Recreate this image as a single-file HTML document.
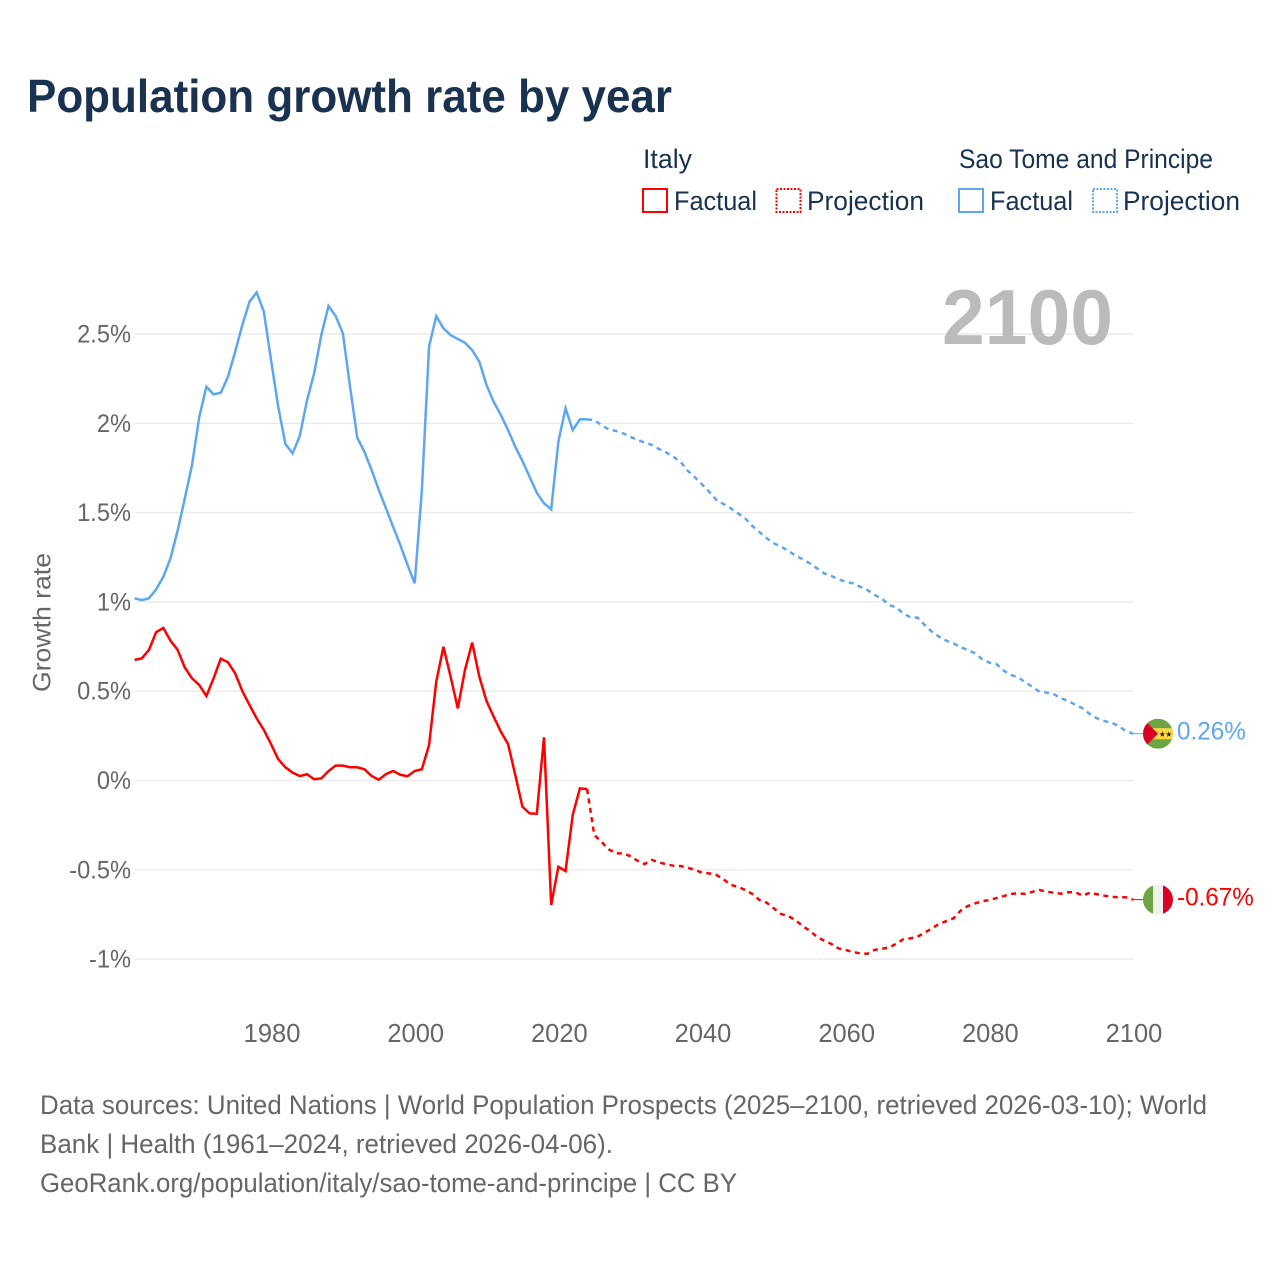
<!DOCTYPE html>
<html lang="en">
<head>
<meta charset="utf-8">
<title>Population growth rate by year</title>
<style>
  html, body { margin: 0; padding: 0; background: #fff; }
  svg { display: block; }
  text { font-family: "Liberation Sans", "DejaVu Sans", sans-serif; }
</style>
</head>
<body>
<svg id="chart" xmlns="http://www.w3.org/2000/svg" width="1280" height="1280" viewBox="0 0 1280 1280">
  <rect x="0" y="0" width="1280" height="1280" fill="#ffffff"/>
  <text x="27" y="112" font-size="46" font-weight="700" fill="#19324f" textLength="645" lengthAdjust="spacingAndGlyphs">Population growth rate by year</text>

  <g font-size="26.5" fill="#19324f">
    <text x="643" y="168" textLength="49" lengthAdjust="spacingAndGlyphs">Italy</text>
    <rect x="643" y="189" width="24" height="23" fill="none" stroke="#ff0000" stroke-width="2"/>
    <text x="674" y="210" textLength="83" lengthAdjust="spacingAndGlyphs">Factual</text>
    <rect x="776.5" y="189" width="24" height="23" fill="none" stroke="#ff0000" stroke-width="2" stroke-dasharray="2 1.5"/>
    <text x="807" y="210" textLength="117" lengthAdjust="spacingAndGlyphs">Projection</text>
    <text x="959" y="168" textLength="254" lengthAdjust="spacingAndGlyphs">Sao Tome and Principe</text>
    <rect x="959" y="189" width="24" height="23" fill="none" stroke="#5ea6ee" stroke-width="2"/>
    <text x="990" y="210" textLength="83" lengthAdjust="spacingAndGlyphs">Factual</text>
    <rect x="1093" y="189" width="24" height="23" fill="none" stroke="#5ea6ee" stroke-width="2" stroke-dasharray="2 1.5"/>
    <text x="1123" y="210" textLength="117" lengthAdjust="spacingAndGlyphs">Projection</text>
  </g>

  <g id="grid"></g>
  <g id="y-ticks"></g>
  <g id="x-ticks"></g>
  <text transform="translate(50.5,692) rotate(-90)" font-size="25" fill="#666666" textLength="139" lengthAdjust="spacingAndGlyphs">Growth rate</text>
  <text x="942" y="344" font-size="78" font-weight="700" fill="#bbbbbb" textLength="171" lengthAdjust="spacingAndGlyphs">2100</text>

  <g id="series"></g>

  <g font-size="26.5" fill="#666666">
    <text x="40" y="1114" textLength="1167" lengthAdjust="spacingAndGlyphs">Data sources: United Nations | World Population Prospects (2025–2100, retrieved 2026-03-10); World</text>
    <text x="40" y="1153" textLength="573" lengthAdjust="spacingAndGlyphs">Bank | Health (1961–2024, retrieved 2026-04-06).</text>
    <text x="40" y="1192" textLength="697" lengthAdjust="spacingAndGlyphs">GeoRank.org/population/italy/sao-tome-and-principe | CC BY</text>
  </g>
</svg>

<script>
const factualStartYear = 1961;
const projectionStartYear = 2025;

const italyFactual = [0.675,0.684,0.731,0.830,0.854,0.783,0.731,0.632,0.572,0.535,
  0.473,0.572,0.682,0.662,0.600,0.501,0.423,0.348,0.283,0.204,
  0.119,0.074,0.044,0.025,0.035,0.007,0.012,0.053,0.083,0.083,
  0.074,0.074,0.063,0.025,0.004,0.036,0.053,0.032,0.024,0.053,
  0.063,0.199,0.553,0.749,0.581,0.404,0.619,0.772,0.581,0.445,
  0.357,0.273,0.204,0.031,-0.147,-0.184,-0.186,0.242,-0.697,-0.483,
  -0.507,-0.193,-0.044,-0.048];

const italyProjection = [-0.305,-0.343,-0.385,-0.408,-0.408,-0.423,-0.449,-0.468,-0.445,-0.458,
  -0.469,-0.477,-0.479,-0.488,-0.501,-0.516,-0.520,-0.529,-0.553,-0.585,
  -0.595,-0.613,-0.635,-0.669,-0.684,-0.716,-0.747,-0.759,-0.781,-0.815,
  -0.841,-0.875,-0.897,-0.915,-0.940,-0.949,-0.960,-0.968,-0.970,-0.949,
  -0.942,-0.936,-0.915,-0.889,-0.884,-0.875,-0.852,-0.828,-0.803,-0.787,
  -0.772,-0.729,-0.703,-0.688,-0.676,-0.669,-0.658,-0.647,-0.635,-0.632,
  -0.635,-0.623,-0.613,-0.623,-0.628,-0.634,-0.626,-0.626,-0.645,-0.628,
  -0.637,-0.645,-0.651,-0.654,-0.654,-0.667];

const saoTomeFactual = [1.020,1.010,1.020,1.070,1.140,1.244,1.400,1.580,1.767,2.034,
  2.205,2.162,2.171,2.260,2.400,2.550,2.680,2.733,2.625,2.354,
  2.093,1.884,1.832,1.929,2.127,2.280,2.494,2.657,2.600,2.504,
  2.205,1.920,1.840,1.739,1.627,1.524,1.420,1.318,1.207,1.104,
  1.627,2.430,2.600,2.532,2.494,2.472,2.451,2.410,2.345,2.214,
  2.120,2.046,1.962,1.869,1.789,1.700,1.611,1.552,1.518,1.897,
  2.084,1.962,2.022,2.022];

const saoTomeProjection = [2.018,1.990,1.966,1.957,1.944,1.925,1.907,1.892,1.880,1.856,
  1.837,1.813,1.785,1.735,1.698,1.658,1.617,1.571,1.548,1.524,
  1.496,1.468,1.425,1.391,1.356,1.328,1.309,1.287,1.259,1.239,
  1.216,1.188,1.160,1.145,1.127,1.113,1.104,1.085,1.067,1.039,
  1.020,0.983,0.970,0.936,0.914,0.912,0.871,0.833,0.805,0.783,
  0.768,0.746,0.731,0.712,0.679,0.660,0.652,0.615,0.591,0.578,
  0.550,0.525,0.497,0.492,0.483,0.460,0.445,0.423,0.404,0.372,
  0.348,0.333,0.324,0.305,0.277,0.262];

const yTickValues = [2.5, 2, 1.5, 1, 0.5, 0, -0.5, -1];
const yTickLabels = ["2.5%", "2%", "1.5%", "1%", "0.5%", "0%", "-0.5%", "-1%"];
const xTickYears = [1980, 2000, 2020, 2040, 2060, 2080, 2100];
const endValueLabels = ["0.26%", "-0.67%"];

const SVG_NS = "http://www.w3.org/2000/svg";
const PLOT_LEFT = 135;
const PLOT_RIGHT = 1133.5;

function xScale(year) {
  return 1133 + (year - 2100) * 7.183;
}
function yScale(value) {
  return 780.5 - value * 178.6;
}
function make(tag, parent) {
  const el = document.createElementNS(SVG_NS, tag);
  parent.appendChild(el);
  return el;
}
function linePath(startYear, values) {
  return values.map(function (v, i) {
    return (i ? "L" : "M") + xScale(startYear + i).toFixed(2) + " " + yScale(v).toFixed(2);
  }).join(" ");
}
function condense(textEl, factor) {
  textEl.setAttribute("textLength", (textEl.getComputedTextLength() * factor).toFixed(2));
  textEl.setAttribute("lengthAdjust", "spacingAndGlyphs");
}

const gridGroup = document.getElementById("grid");
const yTickGroup = document.getElementById("y-ticks");
yTickValues.forEach(function (value, i) {
  const gridLine = make("line", gridGroup);
  
  
  gridLine.setAttribute("x1", PLOT_LEFT);
  gridLine.setAttribute("x2", PLOT_RIGHT);
  gridLine.setAttribute("y1", yScale(value));
  gridLine.setAttribute("y2", yScale(value));
  gridLine.setAttribute("stroke", "#ebebeb");
  gridLine.setAttribute("stroke-width", "1.4");

  const label = make("text", yTickGroup);
  
  
  label.setAttribute("x", 131);
  label.setAttribute("y", yScale(value) + 8.5);
  label.setAttribute("text-anchor", "end");
  label.setAttribute("font-size", "25");
  label.setAttribute("fill", "#666666");
  label.textContent = yTickLabels[i];
  condense(label, 0.945);
});

const xTickGroup = document.getElementById("x-ticks");
xTickYears.forEach(function (year) {
  const label = make("text", xTickGroup);
  
  
  label.setAttribute("x", xScale(year) + 1);
  label.setAttribute("y", 1042);
  label.setAttribute("text-anchor", "middle");
  label.setAttribute("font-size", "25.5");
  label.setAttribute("fill", "#666666");
  label.textContent = String(year);
});

const seriesGroup = document.getElementById("series");

function drawSeries(factual, projection, color, prefix) {
  const solid = make("path", seriesGroup);
  
  
  solid.setAttribute("d", linePath(factualStartYear, factual));
  solid.setAttribute("fill", "none");
  solid.setAttribute("stroke", color);
  solid.setAttribute("stroke-width", "2.5");
  solid.setAttribute("stroke-linejoin", "miter");
  solid.setAttribute("id", prefix + "-factual");

  const joined = [factual[factual.length - 1]].concat(projection);
  const dashed = make("path", seriesGroup);
  
  
  dashed.setAttribute("d", linePath(projectionStartYear - 1, joined));
  dashed.setAttribute("fill", "none");
  dashed.setAttribute("stroke", color);
  dashed.setAttribute("stroke-width", "2.5");
  dashed.setAttribute("stroke-dasharray", "5 4.5");
  dashed.setAttribute("id", prefix + "-projection");
}

function drawLeader(value, color) {
  const leader = make("line", seriesGroup);
  
  
  leader.setAttribute("x1", xScale(2100));
  leader.setAttribute("x2", 1143);
  leader.setAttribute("y1", yScale(value));
  leader.setAttribute("y2", yScale(value));
  leader.setAttribute("stroke", color);
  leader.setAttribute("stroke-width", "1");
}

function drawEndLabel(value, text, color) {
  const label = make("text", seriesGroup);
  
  
  label.setAttribute("x", 1177);
  label.setAttribute("y", yScale(value) + 6);
  label.setAttribute("font-size", "25");
  label.setAttribute("fill", color);
  label.textContent = text;
  condense(label, 0.97);
}

function flagGroup(value, clipId) {
  const group = make("g", seriesGroup);
  group.setAttribute("transform", "translate(1158," + yScale(value).toFixed(2) + ")");
  const defs = make("defs", group);
  const clip = make("clipPath", defs);
  clip.setAttribute("id", clipId);
  const circle = make("circle", clip);
  circle.setAttribute("r", "15");
  const inner = make("g", group);
  inner.setAttribute("clip-path", "url(#" + clipId + ")");
  return inner;
}

function rectIn(parent, x, y, w, h, fill) {
  const r = make("rect", parent);
  r.setAttribute("x", x);
  r.setAttribute("y", y);
  r.setAttribute("width", w);
  r.setAttribute("height", h);
  r.setAttribute("fill", fill);
  return r;
}

function starIn(parent, cx, cy) {
  const s = make("polygon", parent);
  const pts = [];
  for (let k = 0; k < 10; k++) {
    const rad = k % 2 ? 1.2 : 3;
    const ang = -Math.PI / 2 + k * Math.PI / 5;
    pts.push((cx + rad * Math.cos(ang)).toFixed(2) + "," + (cy + rad * Math.sin(ang)).toFixed(2));
  }
  s.setAttribute("points", pts.join(" "));
  s.setAttribute("fill", "#222222");
  return s;
}

const saoTomeEnd = saoTomeProjection[saoTomeProjection.length - 1];
const italyEnd = italyProjection[italyProjection.length - 1];

drawSeries(saoTomeFactual, saoTomeProjection, "#5ea6ee", "sao-tome");
drawSeries(italyFactual, italyProjection, "#ff0000", "italy");
drawLeader(saoTomeEnd, "#5ea6ee");
drawLeader(italyEnd, "#ff0000");

const saoTomeFlag = flagGroup(saoTomeEnd, "clip-sao-tome");


rectIn(saoTomeFlag, -15, -15, 30, 30, "#6da544");
rectIn(saoTomeFlag, -15, -5.5, 30, 11, "#ffda44");
const stpTriangle = make("polygon", saoTomeFlag);
stpTriangle.setAttribute("points", "-15,-15 0,0 -15,15");
stpTriangle.setAttribute("fill", "#d80027");
starIn(saoTomeFlag, 4.3, 0.6);
starIn(saoTomeFlag, 10.8, 0.6);

const italyFlag = flagGroup(italyEnd, "clip-italy");


rectIn(italyFlag, -15, -15, 10, 30, "#6da544");
rectIn(italyFlag, -5, -15, 10, 30, "#f0f0f0");
rectIn(italyFlag, 5, -15, 10, 30, "#d80027");

drawEndLabel(saoTomeEnd, endValueLabels[0], "#5ea6ee");
drawEndLabel(italyEnd, endValueLabels[1], "#ff0000");
</script>
</body>
</html>
